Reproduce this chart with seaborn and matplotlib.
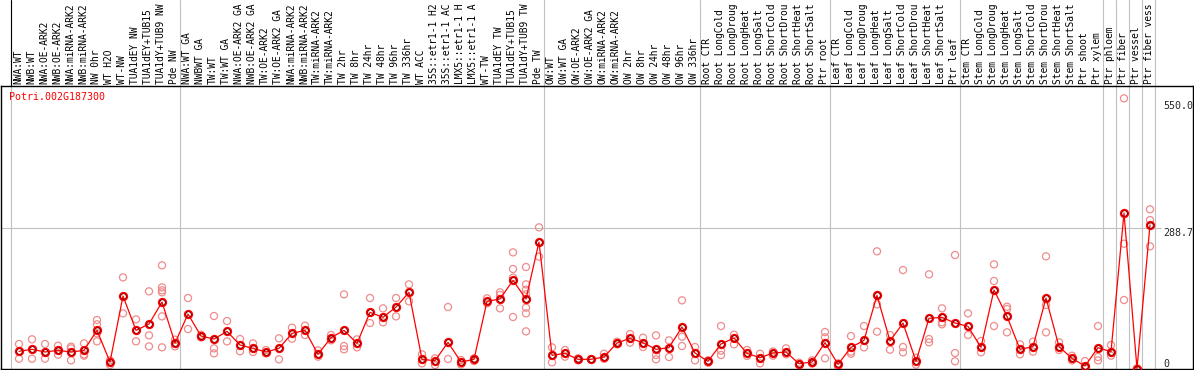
import numpy as np
import pandas as pd
import matplotlib
matplotlib.use("Agg")
import matplotlib.pyplot as plt
import matplotlib.transforms as mtransforms
import seaborn as sns

gene = "Potri.002G187300"

samples = [
    "NWA:WT", "NWB:WT", "NWA:OE-ARK2", "NWB:OE-ARK2", "NWA:miRNA-ARK2", "NWB:miRNA-ARK2",
    "NW 0hr", "WT H2O", "WT-NW", "TUA1dEY NW", "TUA1dEY+TUB15 NW", "TUA1dY+TUB9 NW", "Pde NW",
    "NWA:WT GA", "NWBWT GA", "TW:WT", "TW:WT GA", "NWA:OE-ARK2 GA", "NWB:OE-ARK2 GA",
    "TW:OE-ARK2", "TW:OE-ARK2 GA", "NWA:miRNA-ARK2", "NWB:miRNA-ARK2", "TW:miRNA-ARK2",
    "TW:miRNA-ARK2", "TW 2hr", "TW 8hr", "TW 24hr", "TW 48hr", "TW 96hr", "TW 336hr",
    "WT ACC", "35S::etr1-1 H2O", "35S::etr1-1 ACC", "LMX5::etr1-1 H2O", "LMX5::etr1-1 ACC",
    "WT-TW", "TUA1dEY TW", "TUA1dEY+TUB15 TW", "TUA1dY+TUB9 TW", "Pde TW",
    "OW:WT", "OW:WT GA", "OW:OE-ARK2", "OW:OE-ARK2 GA", "OW:miRNA-ARK2", "OW:miRNA-ARK2",
    "OW 2hr", "OW 8hr", "OW 24hr", "OW 48hr", "OW 96hr", "OW 336hr",
    "Root CTR", "Root LongCold", "Root LongDrought", "Root LongHeat", "Root LongSalt",
    "Root ShortCold", "Root ShortDrought", "Root ShortHeat", "Root ShortSalt", "Ptr root",
    "Leaf CTR", "Leaf LongCold", "Leaf LongDrought", "Leaf LongHeat", "Leaf LongSalt",
    "Leaf ShortCold", "Leaf ShortDrought", "Leaf ShortHeat", "Leaf ShortSalt", "Ptr leaf",
    "Stem CTR", "Stem LongCold", "Stem LongDrought", "Stem LongHeat", "Stem LongSalt",
    "Stem ShortCold", "Stem ShortDrought", "Stem ShortHeat", "Stem ShortSalt", "Ptr shoot",
    "Ptr xylem", "Ptr phloem", "Ptr fiber", "Ptr vessel", "Ptr fiber vessel",
]

means = [
    35.4, 39.5, 34.0, 37.4, 34.0, 37.4, 78.6, 13.4, 149.3, 78.6, 91.6, 136.9, 52.5,
    112.2, 66.9, 60.7, 76.5, 48.4, 41.5, 34.0, 41.5, 72.4, 78.6, 29.2, 63.5, 78.6,
    51.8, 115.7, 105.4, 126.6, 156.9, 18.9, 16.1, 53.9, 13.4, 18.9, 138.3, 143.1,
    181.6, 143.1, 260.5,
    27.1, 31.2, 18.9, 18.9, 23.7, 52.5, 62.1, 53.2, 39.5, 42.9, 85.5, 31.9,
    14.8, 50.5, 62.8, 31.2, 22.3, 31.9, 34.0, 10.0, 13.4, 53.2,
    8.6, 43.6, 58.0, 150.7, 56.6, 93.7, 14.8, 103.3, 105.4, 93.7,
    86.8, 43.6, 161.7, 107.4, 39.5, 45.0, 145.2, 45.0, 20.9, 5.1,
    42.9, 34.7, 320.2, 0.0, 295.5,
]

replicates = [
    [50.5, 20.2], [60.1, 20.2], [50.5, 20.2], [47.0, 28.5], [45.0, 41.5, 16.8],
    [51.8, 29.2, 26.4], [99.9, 91.0, 72.4, 55.9], [16.8, 7.2], [187.7, 113.6],
    [101.2, 55.9], [158.9, 68.3, 45.6], [212.5, 167.1, 161.0, 156.9, 107.4, 43.6],
    [59.4, 45.6],
    [145.2, 81.3], [69.5, 64.2], [108.1, 41.5, 31.2], [97.8, 55.9], [60.7, 35.4],
    [51.8, 34.0], [38.1, 31.2], [62.1, 18.9], [84.1, 61.4], [88.2, 69.0],
    [37.4, 24.4], [69.0, 58.0], [152.7, 46.3, 39.5], [60.1, 43.6], [145.2, 93.7],
    [123.9, 95.1], [145.2, 107.4], [173.3, 138.3], [29.2, 10.6], [20.9, 7.2],
    [126.6, 19.6], [17.5, 8.6], [20.9, 15.4], [144.5, 134.2], [156.9, 151.4, 123.9],
    [239.2, 204.9, 187.1, 106.1], [209.0, 173.3, 162.3, 152.7, 125.3, 113.6, 76.5],
    [290.7, 230.3],
    [43.6, 12.7], [38.1, 24.4], [20.9, 16.8], [18.9, 18.9], [30.5, 20.0], [55.3, 50.0],
    [71.0, 53.2], [63.5, 44.3], [68.3, 27.8, 18.9], [58.0, 23.7], [140.4, 65.6, 46.3],
    [44.3, 16.8],
    [16.8, 12.0], [87.5, 36.7, 27.8], [69.7, 49.8], [38.1, 26.0], [30.5, 10.6],
    [26.4, 35.0], [41.5, 29.2], [7.2, 12.0], [16.8, 10.0], [75.2, 64.2, 20.9],
    [10.6, 3.8], [66.9, 34.7, 30.5], [87.5, 43.6], [241.3, 132.1, 75.9], [69.0, 38.8],
    [202.8, 44.3, 33.3], [22.3, 8.0], [193.9, 60.7, 53.9], [123.9, 95.1, 91.0],
    [233.7, 31.9, 14.8],
    [113.6, 69.0], [56.6, 33.3], [214.5, 180.2, 87.5], [127.3, 122.5, 74.5],
    [49.8, 29.2], [55.3, 34.7], [231.0, 130.8, 74.5], [53.9, 38.1], [26.4, 16.8],
    [15.4, 0.0], [87.5, 23.7, 16.8], [48.4, 26.4], [556.4, 257.1, 141.1], [0.0, 0.0],
    [327.8, 305.8, 251.6],
]

group_starts = [0, 13, 41, 53, 63, 73, 84, 85, 86, 87, 88]
ref_value = 288.7
max_value = 550.0
label_chars = 14

sns.set_style("white")
plt.rcParams["font.family"] = ["DejaVu Sans Mono"]

W, H = 1194, 370
fig = plt.figure(figsize=(W / 100, H / 100), dpi=100)
ax = fig.add_axes([1 / W, 1 / H, 1192 / W, 283 / H])

n = len(samples)
x = np.arange(n)
df_mean = pd.DataFrame({"x": x, "sample": samples, "value": means})
rows = [(i, v) for i, reps in enumerate(replicates) for v in reps]
df_rep = pd.DataFrame(rows, columns=["x", "value"])

# vertical group separators (full height, including header)
blend = mtransforms.blended_transform_factory(ax.transData, fig.transFigure)
for g in group_starts:
    ax.plot([g - 0.6, g - 0.6], [0, 1], transform=blend, color="#c0c0c0",
            lw=0.8, clip_on=False, zorder=0.5)

xlim = (-18 / 13, 1174 / 13)
ax.hlines(ref_value, xlim[0], n - 0.15, color="#c0c0c0", lw=0.8, zorder=0.5)

sns.scatterplot(data=df_rep, x="x", y="value", ax=ax, marker="o",
                facecolor="none", edgecolor="#ee8c8c", s=26, linewidth=0.9,
                zorder=2, legend=False)
sns.lineplot(data=df_mean, x="x", y="value", ax=ax, color="#ff0000", lw=0.9,
             marker="o", markersize=5.2, markerfacecolor="none",
             markeredgecolor="#ff0000", markeredgewidth=1.5, zorder=3,
             legend=False)
ax.plot(x, means, ls="none", marker="o", markersize=4.0, markerfacecolor="none",
        markeredgecolor="#5a0000", markeredgewidth=0.5, zorder=4)

ax.set_xlim(*xlim)
ax.set_ylim(-1.0, 581.8)
ax.set_xticks([])
ax.set_yticks([])
ax.set_xlabel("")
ax.set_ylabel("")
for sp in ax.spines.values():
    sp.set_visible(True)
    sp.set_color("black")
    sp.set_linewidth(1.0)

# header labels (truncated to a fixed width, as in the original)
for i, s in enumerate(samples):
    ax.text(i - 0.08, (H - 83.5) / H, s[:label_chars], transform=blend, rotation=90,
            ha="center", va="bottom", fontsize=6.9, color="black", clip_on=False)

# header left border
ax.plot([-0.6, -0.6], [(H - 86) / H, 1], transform=blend, color="black",
        lw=0.8, clip_on=False, zorder=1)

# gene name
ax.annotate(gene, xy=(0, 1), xycoords="axes fraction", xytext=(8.5, -11.5),
            textcoords="offset pixels", ha="left", va="center", fontsize=7.2,
            color="#ff0000")

# right side value labels
ax.text(n, max_value, f"{max_value:.1f}", ha="left", va="top", fontsize=7.2)
ax.text(n, ref_value, f"{ref_value:.1f}", ha="left", va="top", fontsize=7.2)
ax.text(n, 0, "0", ha="left", va="bottom", fontsize=7.2)

fig.savefig("out.png", dpi=100)
